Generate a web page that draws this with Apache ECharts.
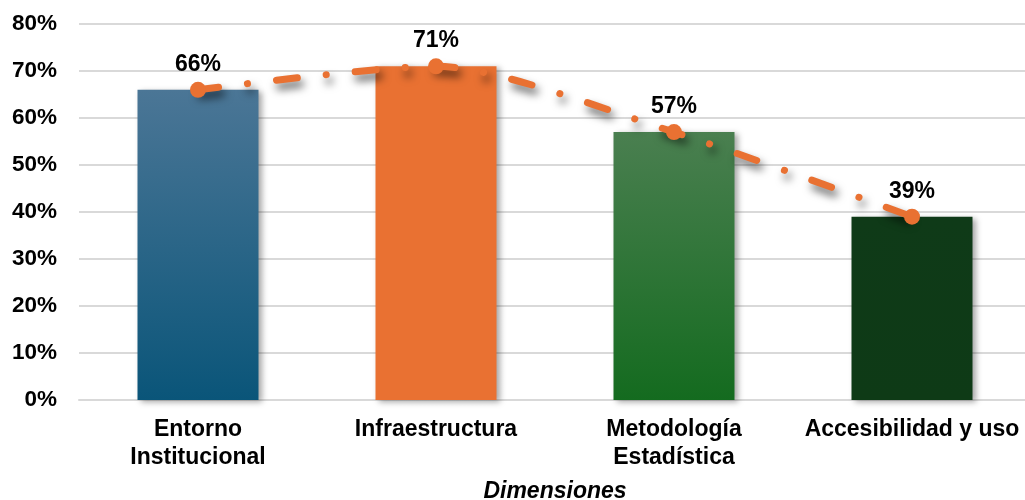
<!DOCTYPE html>
<html>
<head>
<meta charset="utf-8">
<script src="https://cdn.jsdelivr.net/npm/echarts@6/dist/echarts.min.js"></script>
<style>
  html, body { margin: 0; padding: 0; background: #fff; }
  #chart { width: 1025px; height: 500px; }
</style>
</head>
<body>
<div id="chart"></div>
<script>
// Dimension scores (share of compliance, %)
const categories = ['Entorno\nInstitucional', 'Infraestructura', 'Metodología\nEstadística', 'Accesibilidad y uso'];
const scores = [66, 71, 57, 39];
const yTicks = { min: 0, max: 80, interval: 10 };

// Fill per bar: [top, bottom] of the vertical gradient
const barFills = [
  ['#4B7696', '#0A5579'],
  ['#E97132', '#E97132'],
  ['#4A7F50', '#146B1F'],
  ['#0F3A18', '#0E3A16']
];

const font = '"Liberation Sans", Arial, sans-serif';

const chart = echarts.init(document.getElementById('chart'), null, { renderer: 'canvas' });

chart.setOption({
  animation: false,
  backgroundColor: '#ffffff',
  grid: { left: 79, top: 24, width: 952, height: 376, containLabel: false, outerBoundsMode: 'none' },
  xAxis: {
    type: 'category',
    data: categories,
    axisTick: { show: false },
    axisLine: { show: true, lineStyle: { color: '#d9d9d9', width: 2 } },
    axisLabel: {
      margin: 16,
      color: '#000',
      fontFamily: font,
      fontWeight: 'bold',
      fontSize: 23,
      lineHeight: 28,
      interval: 0
    },
    name: 'Dimensiones',
    nameLocation: 'middle',
    nameGap: 80,
    nameTextStyle: {
      color: '#000',
      fontFamily: font,
      fontWeight: 'bold',
      fontStyle: 'italic',
      fontSize: 23
    }
  },
  yAxis: {
    type: 'value',
    min: yTicks.min,
    max: yTicks.max,
    interval: yTicks.interval,
    axisLine: { show: false },
    axisTick: { show: false },
    splitLine: { lineStyle: { color: '#d9d9d9', width: 2 } },
    axisLabel: {
      margin: 22,
      color: '#000',
      fontFamily: font,
      fontWeight: 'bold',
      fontSize: 22.5,
      formatter: v => v + '%'
    }
  },
  series: [
    {
      type: 'bar',
      barWidth: 121,
      data: scores.map((v, i) => ({
        value: v,
        itemStyle: {
          color: new echarts.graphic.LinearGradient(0, 0, 0, 1, [
            { offset: 0, color: barFills[i][0] },
            { offset: 1, color: barFills[i][1] }
          ]),
          shadowColor: 'rgba(0,0,0,0.35)',
          shadowBlur: 6,
          shadowOffsetX: 3,
          shadowOffsetY: 2
        }
      })),
      label: {
        show: true,
        position: 'top',
        distance: 14,
        color: '#000',
        fontFamily: font,
        fontWeight: 'bold',
        fontSize: 23,
        formatter: p => p.value + '%'
      },
      z: 2
    },
    {
      type: 'line',
      data: scores,
      smooth: 0.25,
      symbol: 'circle',
      symbolSize: 16,
      itemStyle: { color: '#E97132' },
      lineStyle: {
        color: '#E97132',
        width: 7,
        type: [21, 29, 0.1, 29],
        cap: 'round',
        shadowColor: 'rgba(0,0,0,0.6)',
        shadowBlur: 9,
        shadowOffsetX: 3,
        shadowOffsetY: 6
      },
      z: 3
    }
  ]
});
</script>
</body>
</html>
